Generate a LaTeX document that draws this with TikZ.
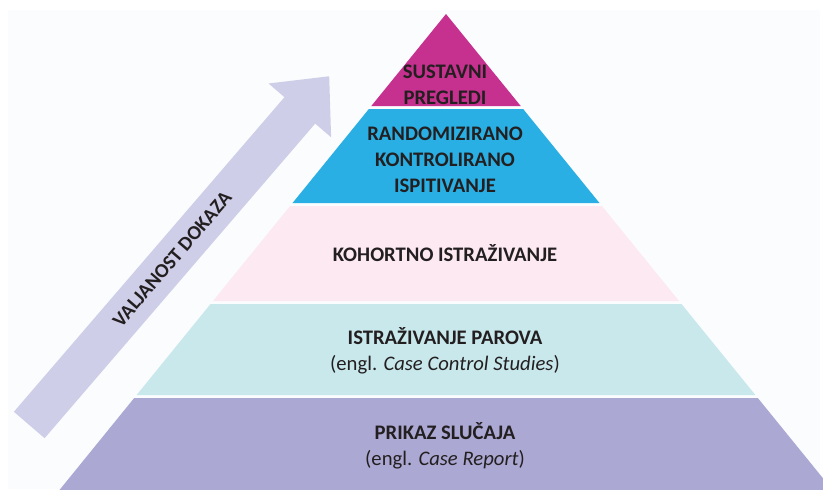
\documentclass[tikz,border=0pt]{standalone}
\usepackage{fontspec}
\setmainfont{Carlito}
\usepackage{tikz}
\usetikzlibrary{shapes.arrows}
\definecolor{peakmagenta}{RGB}{198,48,143}
\definecolor{rctblue}{RGB}{41,175,227}
\definecolor{cohortpink}{RGB}{252,233,242}
\definecolor{casecyan}{RGB}{200,232,236}
\definecolor{reportlav}{RGB}{171,168,212}
\definecolor{arrowlav}{RGB}{207,206,233}
\definecolor{inkdark}{RGB}{35,31,32}
\definecolor{paperbg}{RGB}{251,252,254}
\tikzset{
  lbl/.style={font=\fontsize{15.5}{19.5}\selectfont, align=center, text=inkdark, inner sep=0pt},
  gainarrow/.style={single arrow, fill=arrowlav, draw=none, font=\fontsize{15}{18}\selectfont\bfseries, text=inkdark,
    single arrow head extend=15.75pt, single arrow tip angle=85, inner xsep=0pt, inner ysep=10pt,
    text height=10pt, text depth=0pt, minimum height=345pt},
}
\begin{document}
\begin{tikzpicture}[x=0.75pt,y=-0.75pt]
  \useasboundingbox (0,0) rectangle (823,489);
  \clip (0,0) rectangle (823,489);
  \fill[white] (0,0) rectangle (823,489);
  \fill[paperbg] (8,10) rectangle (820,489);
  % pyramid bands, apex at (446,14)
  \foreach \yt/\yb/\col in {14/106/peakmagenta,109/203/rctblue,206/301/cohortpink,304/395/casecyan,398/500/reportlav}{
    \fill[\col] ({446-0.812*(\yt-14)},\yt) -- ({446+0.812*(\yt-14)},\yt) -- ({446+0.812*(\yb-14)},\yb) -- ({446-0.812*(\yb-14)},\yb) -- cycle;
  }
  % level labels
  \node[lbl] (sr)  at (445,85)  {\textbf{SUSTAVNI}\\\textbf{PREGLEDI}};
  \node[lbl] (rct) at (445,160) {\textbf{RANDOMIZIRANO}\\\textbf{KONTROLIRANO}\\\textbf{ISPITIVANJE}};
  \node[lbl] (coh) at (445,253) {\textbf{KOHORTNO ISTRAŽIVANJE}};
  \node[lbl] (ccs) at (445,351) {\textbf{ISTRAŽIVANJE PAROVA}\\(engl. \textit{Case Control Studies})};
  \node[lbl] (cr)  at (445,446) {\textbf{PRIKAZ SLUČAJA}\\(engl. \textit{Case Report})};
  % evidence arrow
  \node[gainarrow, rotate=49.3] (val) at (172,259) {VALJANOST DOKAZA};
\end{tikzpicture}
\end{document}
